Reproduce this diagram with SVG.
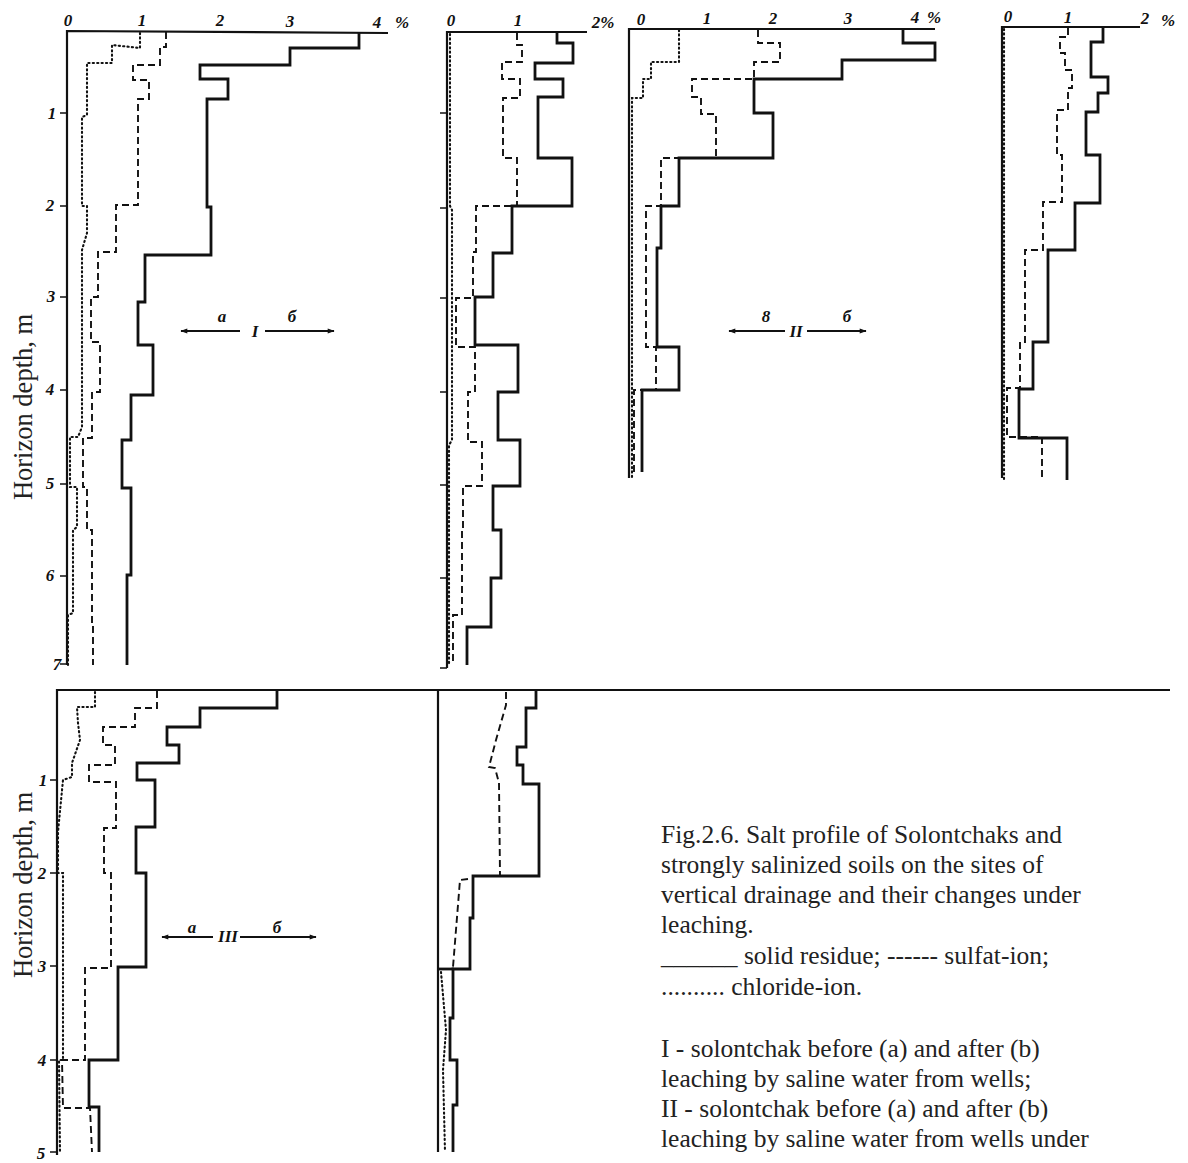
<svg xmlns="http://www.w3.org/2000/svg" width="1188" height="1163" viewBox="0 0 1188 1163">
<style>
.bg{fill:#fff}
.ax{fill:none;stroke:#111;stroke-width:2.2}
.tk{fill:none;stroke:#111;stroke-width:1.6}
.sol{fill:none;stroke:#111;stroke-width:2.8;stroke-linejoin:miter}
.das{fill:none;stroke:#111;stroke-width:1.9;stroke-dasharray:7 4}
.dot{fill:none;stroke:#111;stroke-width:2.1;stroke-dasharray:1.2 3.2;stroke-linecap:round}
.arr{fill:none;stroke:#111;stroke-width:1.8}
.hn{font-family:"Liberation Serif",serif;font-style:italic;font-weight:bold;font-size:17px;fill:#111}
.lab{font-family:"Liberation Serif",serif;font-size:26.5px;fill:#222}
.cap{font-family:"Liberation Serif",serif;font-size:25.5px;fill:#222}
</style>
<defs>
<marker id="ah" viewBox="0 0 10 10" refX="9" refY="5" markerWidth="9" markerHeight="7" orient="auto" markerUnits="userSpaceOnUse">
<path d="M0,1.5 L10,5 L0,8.5 z" fill="#111"/>
</marker>
</defs>
<rect class="bg" x="0" y="0" width="1188" height="1163"/>

<g id="panel-Ia">
<polyline class="ax" points="67,665 67,31 388,33"/>
<path class="tk" d="M60,113H67M60,206H67M60,297H67M60,390H67M60,484H67M60,576H67M60,664H67"/>
<text class="hn" x="68" y="26" text-anchor="middle">0</text>
<text class="hn" x="142" y="26" text-anchor="middle">1</text>
<text class="hn" x="220" y="26" text-anchor="middle">2</text>
<text class="hn" x="290" y="27" text-anchor="middle">3</text>
<text class="hn" x="377" y="28" text-anchor="middle">4</text>
<text class="hn" x="402" y="28" text-anchor="middle">%</text>
<text class="hn" x="52" y="119" text-anchor="middle">1</text>
<text class="hn" x="50" y="211" text-anchor="middle">2</text>
<text class="hn" x="51" y="302" text-anchor="middle">3</text>
<text class="hn" x="50" y="395" text-anchor="middle">4</text>
<text class="hn" x="50" y="489" text-anchor="middle">5</text>
<text class="hn" x="50" y="581" text-anchor="middle">6</text>
<text class="hn" x="57" y="670" text-anchor="middle">7</text>
<polyline class="sol" points="359,32 359,48 290,48 290,65 200,65 200,79 228,79 228,99 207,99 207,207 211,207 211,255 145,255 145,302 138,302 138,345 153,345 153,395 131,395 131,440 122,440 122,488 131,488 131,575 127,575 127,665"/>
<polyline class="das" points="166,32 166,47 160,47 160,65 133,65 133,80 149,80 149,99 138,99 138,205 116,205 116,252 98,252 98,297 91,297 91,342 100,342 100,392 92,392 92,438 83,438 83,487 87,487 87,530 92,530 92,625 93,625 93,665"/>
<polyline class="dot" points="140,33 140,48 112,45 112,63 87,63 87,115 82,117 82,206 87,206 87,233 82,250 82,427 78,437 70,437 70,487 77,487 77,527 73,530 73,613 68,615 68,665"/>
</g>

<g id="panel-Ib">
<polyline class="ax" points="447,668 447,32 587,32"/>
<path class="tk" d="M440,113H447M440,208H447M440,298H447M440,392H447M440,485H447M440,578H447M440,668H447"/>
<text class="hn" x="451" y="26" text-anchor="middle">0</text>
<text class="hn" x="518" y="26" text-anchor="middle">1</text>
<text class="hn" x="603" y="28" text-anchor="middle">2%</text>
<polyline class="sol" points="557,32 557,43 573,43 573,63 535,63 535,79 563,79 563,97 538,97 538,158 572,158 572,206 512,206 512,253 493,253 493,297 475,297 475,345 518,345 518,392 498,392 498,440 520,440 520,486 493,486 493,530 501,530 501,578 491,578 491,627 467,627 467,665"/>
<polyline class="das" points="517,33 517,45 522,45 522,62 502,62 502,79 520,79 520,98 503,98 503,158 517,158 517,206 476,206 476,252 473,252 473,298 456,298 456,347 475,347 475,392 468,392 468,442 482,442 482,486 463,486 463,530 462,530 462,615 453,615 453,665"/>
<polyline class="dot" points="450,34 450,206 452,210 452,440 449,445 449,666"/>
</g>

<g id="panel-IIa">
<polyline class="ax" points="629,478 629,29 935,29"/>
<text class="hn" x="641" y="25" text-anchor="middle">0</text>
<text class="hn" x="707" y="24" text-anchor="middle">1</text>
<text class="hn" x="773" y="24" text-anchor="middle">2</text>
<text class="hn" x="848" y="24" text-anchor="middle">3</text>
<text class="hn" x="915" y="23" text-anchor="middle">4</text>
<text class="hn" x="934" y="23" text-anchor="middle">%</text>
<polyline class="sol" points="903,29 903,43 935,43 935,60 842,60 842,79 754,79 754,113 773,113 773,158 679,158 679,206 661,206 661,248 657,248 657,347 679,347 679,390 642,390 642,472"/>
<polyline class="das" points="758,30 758,43 780,43 780,62 754,62 754,79 692,79 692,97 701,97 701,114 716,114 716,158 661,158 661,206 646,206 646,347 656,347 656,390 634,390 634,476"/>
<polyline class="dot" points="679,30 679,62 651,62 651,79 643,79 643,98 632,98 632,478"/>
</g>

<g id="panel-IIb">
<polyline class="ax" points="1002,478 1002,27 1140,27"/>
<text class="hn" x="1008" y="22" text-anchor="middle">0</text>
<text class="hn" x="1068" y="23" text-anchor="middle">1</text>
<text class="hn" x="1145" y="24" text-anchor="middle">2</text>
<text class="hn" x="1168" y="26" text-anchor="middle">%</text>
<polyline class="sol" points="1103,27 1103,42 1091,42 1091,77 1108,77 1108,93 1098,93 1098,112 1086,112 1086,155 1100,155 1100,203 1075,203 1075,250 1048,250 1048,342 1033,342 1033,389 1019,389 1019,438 1067,438 1067,480"/>
<polyline class="das" points="1068,28 1068,37 1060,37 1060,53 1065,53 1065,70 1072,70 1072,88 1068,88 1068,110 1057,110 1057,155 1062,155 1062,202 1043,202 1043,250 1025,250 1025,342 1020,342 1020,388 1007,388 1007,437 1042,437 1042,480"/>
<polyline class="dot" points="1004,29 1004,482"/>
</g>

<g id="panel-IIIa">
<polyline class="ax" points="57,1155 57,690 1170,690"/>
<path class="tk" d="M50,780H57M50,873H57M50,966H57M50,1060H57M50,1152H57"/>
<text class="hn" x="43" y="786" text-anchor="middle">1</text>
<text class="hn" x="42" y="879" text-anchor="middle">2</text>
<text class="hn" x="42" y="972" text-anchor="middle">3</text>
<text class="hn" x="42" y="1066" text-anchor="middle">4</text>
<text class="hn" x="41" y="1159" text-anchor="middle">5</text>
<polyline class="sol" points="277,690 277,708 200,708 200,727 167,727 167,745 179,745 179,763 137,763 137,780 155,780 155,827 136,827 136,873 146,873 146,967 118,967 118,1060 89,1060 89,1107 99,1107 99,1152"/>
<polyline class="das" points="157,691 157,708 135,708 135,727 103,727 103,745 115,745 115,765 89,765 89,782 116,782 116,828 104,828 104,873 111,873 111,968 85,968 85,1060 62,1060 63,1108 90,1108 92,1152"/>
<polyline class="dot" points="95,692 95,707 77,707 78,723 80,740 72,763 72,777 63,780 58,832 58,873 63,873 63,1060 59,1060 60,1152"/>
</g>

<g id="panel-IIIb">
<polyline class="ax" points="438,690 438,1152"/>
<polyline class="sol" points="536,691 536,708 526,708 526,747 517,747 517,765 523,765 523,784 539,784 539,876 473,876 473,918 470,918 470,969 453,969 453,1018 450,1018 450,1060 457,1060 457,1105 453,1105 453,1152"/>
<line class="sol" x1="438" y1="969" x2="454" y2="969"/>
<polyline class="das" points="506,692 506,705 496,740 489,767 495,768 499,783 500,875"/>
<polyline class="das" points="468,879 460,880 453,967"/>
<polyline class="dot" points="441,972 446,1030 443,1070 445,1152"/>
</g>

<g id="connectors">
<line class="arr" x1="240" y1="331" x2="181" y2="331" marker-end="url(#ah)"/>
<line class="arr" x1="265" y1="331" x2="334" y2="331" marker-end="url(#ah)"/>
<line class="arr" x1="785" y1="331" x2="729" y2="331" marker-end="url(#ah)"/>
<line class="arr" x1="807" y1="331" x2="866" y2="331" marker-end="url(#ah)"/>
<line class="arr" x1="213" y1="937" x2="162" y2="937" marker-end="url(#ah)"/>
<line class="arr" x1="240" y1="937" x2="316" y2="937" marker-end="url(#ah)"/>
</g>

<g id="arrow-labels">
<text class="hn" x="222" y="322" text-anchor="middle">a</text>
<text class="hn" x="255" y="337" text-anchor="middle">I</text>
<text class="hn" x="292" y="322" text-anchor="middle">б</text>
<text class="hn" x="766" y="322" text-anchor="middle">8</text>
<text class="hn" x="796" y="337" text-anchor="middle">II</text>
<text class="hn" x="847" y="322" text-anchor="middle">б</text>
<text class="hn" x="192" y="933" text-anchor="middle">a</text>
<text class="hn" x="228" y="942" text-anchor="middle">III</text>
<text class="hn" x="277" y="933" text-anchor="middle">б</text>
</g>

<g id="axis-titles">
<text class="lab" transform="translate(32,407) rotate(-90)" text-anchor="middle">Horizon depth, m</text>
<text class="lab" transform="translate(32,885) rotate(-90)" text-anchor="middle">Horizon depth, m</text>
</g>

<g id="caption">
<text class="cap" x="661" y="843">Fig.2.6. Salt profile of Solontchaks and</text>
<text class="cap" x="661" y="873">strongly salinized soils on the sites of</text>
<text class="cap" x="661" y="903">vertical drainage and their changes under</text>
<text class="cap" x="661" y="933">leaching.</text>
<text class="cap" x="661" y="964">______ solid residue; ------ sulfat-ion;</text>
<text class="cap" x="661" y="995">.......... chloride-ion.</text>
<text class="cap" x="661" y="1057">I - solontchak before (a) and after (b)</text>
<text class="cap" x="661" y="1087">leaching by saline water from wells;</text>
<text class="cap" x="661" y="1117">II - solontchak before (a) and after (b)</text>
<text class="cap" x="661" y="1147">leaching by saline water from wells under</text>
</g>
</svg>
